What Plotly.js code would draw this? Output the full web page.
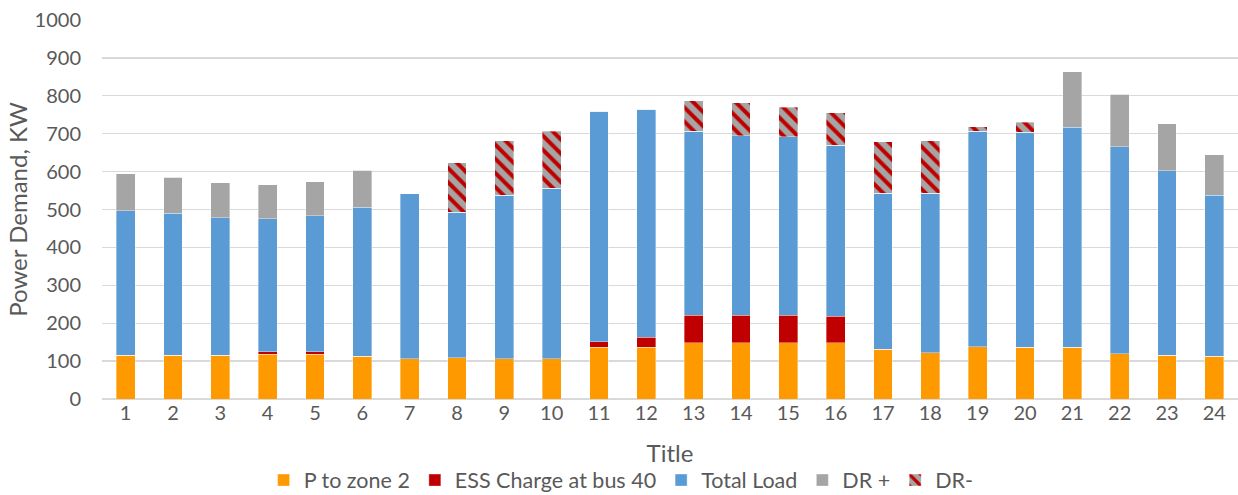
<!DOCTYPE html>
<html>
<head>
<meta charset="utf-8">
<script src="https://cdn.plot.ly/plotly-3.0.1.min.js"></script>
<style>html,body{margin:0;padding:0;background:#fff;}#chart{width:1238px;height:495px;}</style>
</head>
<body>
<div id="chart"></div>
<script>
const hours = ["1","2","3","4","5","6","7","8","9","10","11","12","13","14","15","16","17","18","19","20","21","22","23","24"];
const pToZone2 = [116,116,116,118,118,113,106,109,106,106,137,137,149,149,149,149,131,122,138,137,136,120,116,113];
const essCharge = [0,0,0,7,7,0,0,0,0,0,14,26,72,72,72,70,0,0,0,0,0,0,0,0];
const totalLoad = [381,374,362,351,359,393,435,384,432,450,608,601,485,474,471,450,412,421,568,567,581,546,486,424];
const drPlus = [97,95,93,89,89,97,0,0,0,0,0,0,0,0,0,0,0,0,0,0,146,138,124,108];
const drMinus = [0,0,0,0,0,0,0,130,144,151,0,0,81,87,78,86,136,139,13,26,0,0,0,0];

const edge = {color: 'rgba(255,255,255,0.45)', width: 0.8};
const traces = [
  {name: 'P to zone 2', y: pToZone2, marker: {color: '#FF9900', line: edge}},
  {name: 'ESS Charge at bus 40', y: essCharge, marker: {color: '#C00000', line: edge}},
  {name: 'Total Load', y: totalLoad, marker: {color: '#5B9BD5', line: edge}},
  {name: 'DR +', y: drPlus, marker: {color: '#A5A5A5', line: edge}},
  {name: 'DR-', y: drMinus, marker: {color: '#A5A5A5', line: edge,
     pattern: {shape: '\\', fgcolor: '#C00000', bgcolor: '#A5A5A5', size: 10, solidity: 0.4, fillmode: 'replace'}}}
].map(t => Object.assign({type: 'bar', x: hours, hoverinfo: 'y+name'}, t));

const font = {family: 'Lato, "Open Sans", sans-serif', color: '#595959'};
const layout = {
  width: 1238, height: 495,
  margin: {l: 102, r: 0, t: 20, b: 96, autoexpand: false},
  barmode: 'stack',
  bargap: 0.6,
  paper_bgcolor: '#fff', plot_bgcolor: '#fff',
  font: Object.assign({size: 20}, font),
  xaxis: {
    type: 'category',
    tickfont: Object.assign({size: 20}, font),
    showgrid: false, zeroline: false,
    showline: false, ticks: '',
    title: {text: 'Title', font: Object.assign({size: 24}, font), standoff: 22},
    automargin: true
  },
  yaxis: {
    range: [0, 1000], dtick: 100,
    gridcolor: '#D9D9D9', gridwidth: 1.3,
    zeroline: true, zerolinecolor: '#D9D9D9', zerolinewidth: 1.3,
    tickfont: Object.assign({size: 20}, font),
    ticks: '', ticklabelstandoff: 20,
    title: {text: 'Power Demand, KW', font: Object.assign({size: 24}, font), standoff: 0},
    automargin: true
  },
  showlegend: true,
  legend: {
    orientation: 'h', x: 0.457, xanchor: 'center',
    y: -0.214, yanchor: 'middle',
    font: Object.assign({size: 21.5}, font), traceorder: 'normal',
    itemwidth: 30, tracegroupgap: 0
  }
};
Plotly.newPlot('chart', traces, layout, {displayModeBar: false, staticPlot: true});
</script>
</body>
</html>
